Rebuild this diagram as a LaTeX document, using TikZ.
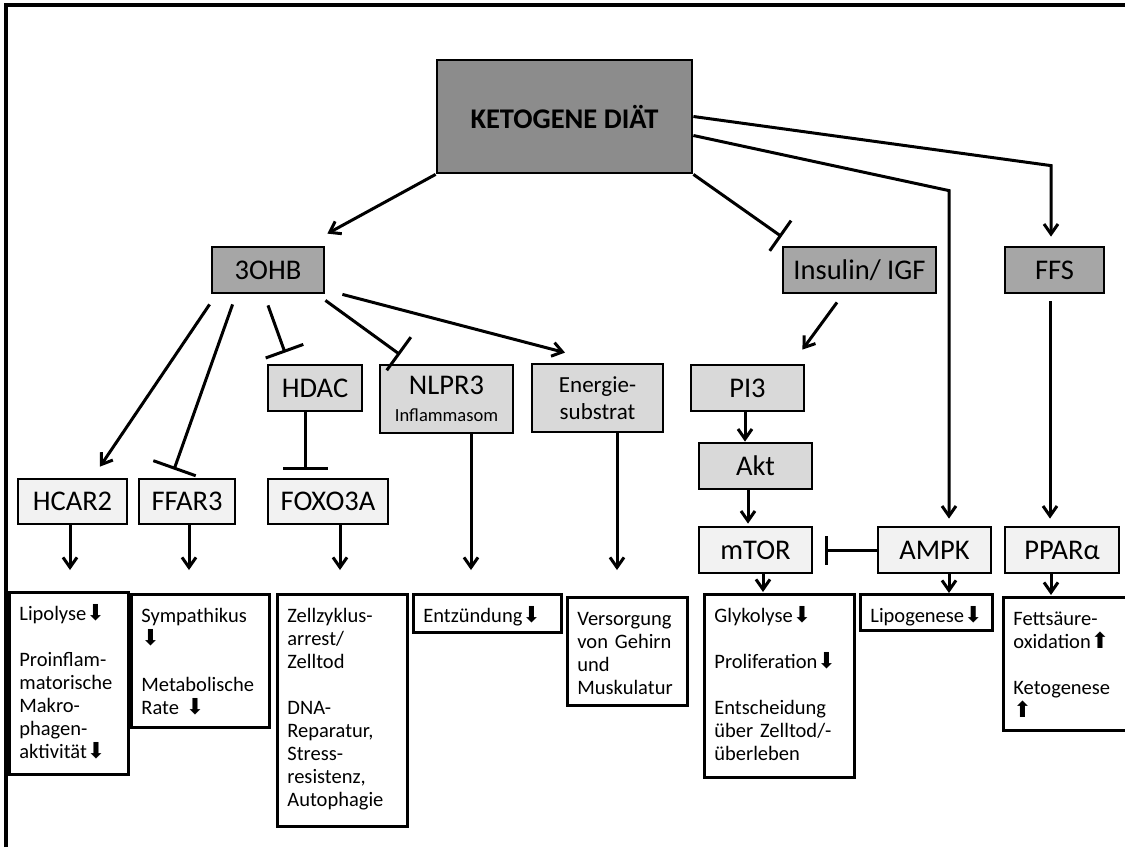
\documentclass[tikz,border=0pt]{standalone}
\usepackage{fontspec}
\setmainfont{Carlito}
\newfontfamily\pfeilfont{DejaVu Sans}
\usepackage{tikz}
\usetikzlibrary{arrows.meta,calc}

\newcommand{\runter}{{\pfeilfont\fontsize{22}{22}\selectfont ⬇}}
\newcommand{\hoch}{{\pfeilfont\fontsize{22}{22}\selectfont ⬆}}

\begin{document}
\begin{tikzpicture}[
    x=1pt, y=-1pt,
    % --- KNOTEN ---
    kasten/.style={draw=black, line width=2.8pt, inner sep=0pt, align=center, font=\fontsize{28.5}{30}\selectfont},
    dunkel/.style={kasten, fill=black!35},
    mittel/.style={kasten, fill=black!15},
    hell/.style={kasten, fill=black!5},
    ergebnis/.style={draw=black, line width=2.8pt, fill=white, anchor=north west, align=left,
        inner xsep=10pt, inner ysep=6pt, text height=22pt, font=\fontsize{20.5}{23}\selectfont},
    % --- KANTEN ---
    pfeil/.style={-{Straight Barb[length=10pt,width=14pt]}, line width=3pt},
    hemmung/.style={-{Bar[width=#1]}, line width=3pt},
    hemmung/.default=40pt
]
    \useasboundingbox (0,0) rectangle (1125,847);
    \draw[line width=4pt] (6,847) -- (6,5) -- (1125,5);

    % --- OBERSTE EBENE ---
    \node[kasten, fill=black!45, minimum width=255pt, minimum height=113pt,
          font=\bfseries\fontsize{28.5}{30}\selectfont] (kd) at (564.5,116.5) {KETOGENE DIÄT};

    \node[dunkel, minimum width=112pt, minimum height=46pt] (ohb) at (268,270)    {3OHB};
    \node[dunkel, minimum width=153pt, minimum height=46pt] (ins) at (859.5,270)  {Insulin/ IGF};
    \node[dunkel, minimum width=99pt,  minimum height=46pt] (ffs) at (1054.5,270) {FFS};

    % --- MITTLERE EBENE ---
    \node[mittel, minimum width=94pt,  minimum height=46pt] (hdac) at (315,388) {HDAC};
    \node[mittel, minimum width=133pt, minimum height=68pt] (nlpr) at (446.5,399)
        {NLPR3\\[-3pt]{\fontsize{18.5}{20}\selectfont Inflammasom}};
    \node[mittel, minimum width=131pt, minimum height=68pt,
          font=\fontsize{23}{27}\selectfont] (energie) at (597.5,398) {Energie-\\substrat};
    \node[mittel, minimum width=113pt, minimum height=46pt] (pi3) at (747.5,388) {PI3};
    \node[mittel, minimum width=113pt, minimum height=46pt] (akt) at (755.5,466) {Akt};

    % --- UNTERE EBENE ---
    \node[hell, minimum width=109pt, minimum height=45pt] (hcar2) at (72.5,501.5) {HCAR2};
    \node[hell, minimum width=96pt,  minimum height=45pt] (ffar3) at (187,501.5)  {FFAR3};
    \node[hell, minimum width=120pt, minimum height=45pt] (foxo)  at (328,501.5)  {FOXO3A};
    \node[hell, minimum width=113pt, minimum height=46pt] (mtor)  at (755.5,550)  {mTOR};
    \node[hell, minimum width=113pt, minimum height=46pt] (ampk)  at (934.5,550)  {AMPK};
    \node[hell, minimum width=114pt, minimum height=46pt] (ppar)  at (1062,550)   {PPARα};

    % --- WIRKUNGEN ---
    \node[ergebnis, text width=99pt,  text depth=148pt] (r1) at (8,591)
        {Lipolyse\runter\\[23pt]Proinflam-\\matorische\\Makro-\\phagen-\\aktivität\runter};
    \node[ergebnis, text width=118pt, text depth=99pt] (r2) at (130,593)
        {Sympathikus\\\runter\\[23pt]Metabolische\\Rate \runter};
    \node[ergebnis, text width=110pt, text depth=198pt] (r3) at (276,593)
        {Zellzyklus-\\arrest/\\Zelltod\\[23pt]DNA-\\Reparatur,\\Stress-\\resistenz,\\Autophagie};
    \node[ergebnis, text width=128pt, text depth=4pt] (r4) at (412,593) {Entzündung\runter};
    \node[ergebnis, text width=100pt, text depth=74pt] (r5) at (566,596)
        {Versorgung\\von Gehirn\\und\\Muskulatur};
    \node[ergebnis, text width=130pt, text depth=149pt] (r6) at (703,593)
        {Glykolyse\runter\\[23pt]Proliferation\runter\\[23pt]Entscheidung\\über Zelltod/-\\überleben};
    \node[ergebnis, text width=112pt, text depth=2pt] (r7) at (859,593) {Lipogenese\runter};
    \node[ergebnis, text width=110pt, text depth=99pt] (r8) at (1002,596)
        {Fettsäure-\\oxidation\hoch\\[23pt]Ketogenese\\\hoch};

    % --- VON DER KETOGENEN DIÄT ---
    \draw[pfeil] (kd.south west) -- ($(ohb.north east)+(2,-12)$);
    \draw[hemmung=37pt] (kd.south east) -- ($(ins.north west)+(0,-9)$);
    \draw[pfeil] ($(kd.east)+(0,19)$) -- ($(ampk.north)+(14.5,-335)$) -- ($(ampk.north)+(14.5,-7)$);
    \draw[pfeil] (kd.east) -- ($(ffs.north)+(-3.5,-80)$) -- ($(ffs.north)+(-3.5,-9)$);

    % --- VON 3OHB ---
    \draw[pfeil] ($(ohb.south west)+(-1,10)$) -- ($(hcar2.north)+(27.5,-11)$);
    \draw[hemmung=45pt] ($(ohb.south west)+(22,10)$) -- ($(ffar3.north)+(-13,-8)$);
    \draw[hemmung] ($(ohb.south)+(0,11)$) -- ($(hdac.north)+(-30,-11)$);
    \draw[hemmung=41pt] ($(ohb.south east)+(0,6)$) -- ($(nlpr.north)+(-46.5,-9)$);
    \draw[pfeil] ($(ohb.south east)+(17,0)$) -- ($(energie.north)+(-32.5,-10)$);
    \draw[hemmung=45pt] ($(hdac.south)+(-10,0)$) -- ($(foxo.north)+(-23,-8)$);

    % --- INSULIN-SIGNALWEG ---
    \draw[pfeil] ($(ins.south)+(-22.5,8)$) -- ($(pi3.north east)+(-3,-14)$);
    \draw[pfeil] ($(pi3.south)+(-2.5,0)$) coordinate (p1) -- (p1 |- akt.north);
    \draw[pfeil, shorten >=2pt] ($(akt.south)+(-7.5,0)$) coordinate (p2) -- (p2 |- mtor.north);
    \draw[hemmung=29pt] (ampk.west) -- ($(mtor.east)+(12,0)$);
    \draw[pfeil, shorten >=7pt] ($(ffs.south)+(-4.5,7)$) coordinate (p3) -- (p3 |- ppar.north);

    % --- ZU DEN WIRKUNGEN ---
    \draw[pfeil, shorten >=21pt] ($(hcar2.south)+(-2.5,0)$) coordinate (w1) -- (w1 |- r1.north);
    \draw[pfeil, shorten >=23pt] ($(ffar3.south)+(2,0)$) coordinate (w2) -- (w2 |- r2.north);
    \draw[pfeil, shorten >=23pt] ($(foxo.south)+(12,0)$) coordinate (w3) -- (w3 |- r3.north);
    \draw[pfeil, shorten >=23pt] ($(nlpr.south)+(24.5,0)$) coordinate (w4) -- (w4 |- r4.north);
    \draw[pfeil, shorten >=26pt] ($(energie.south)+(19.5,0)$) coordinate (w5) -- (w5 |- r5.north);
    \draw[pfeil, shorten >=1pt] ($(mtor.south)+(7.5,0)$) coordinate (w6) -- (w6 |- r6.north);
    \draw[pfeil] ($(ampk.south)+(14.5,0)$) coordinate (w7) -- (w7 |- r7.north);
    \draw[pfeil, shorten >=1pt] ($(ppar.south)+(-11,0)$) coordinate (w8) -- (w8 |- r8.north);

\end{tikzpicture}
\end{document}
